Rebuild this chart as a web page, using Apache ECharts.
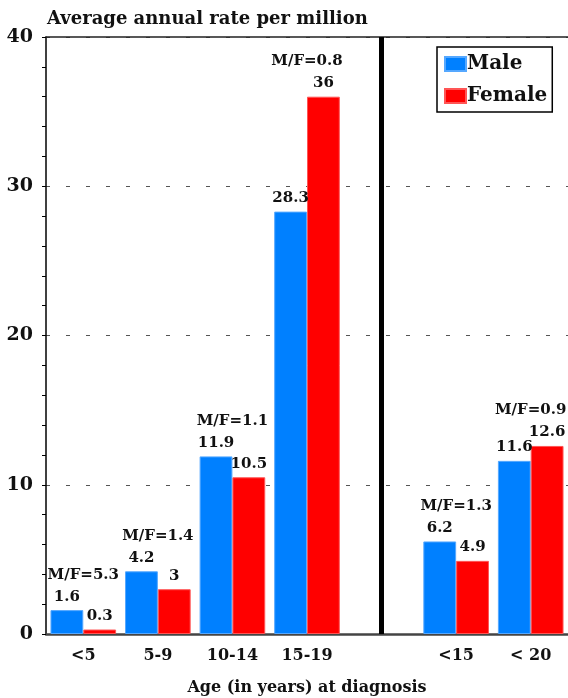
<!DOCTYPE html>
<html>
<head>
<meta charset="utf-8">
<script src="https://cdn.jsdelivr.net/npm/echarts@6/dist/echarts.min.js"></script>
<style>html,body{margin:0;padding:0;background:#fff}#c{width:568px;height:698px}</style>
</head>
<body>
<div id="c"></div>
<script>
var categories = ['<5', '5-9', '10-14', '15-19', '', '<15', '< 20'];
var maleValues = [1.6, 4.2, 11.9, 28.3, null, 6.2, 11.6];
var femaleValues = [0.3, 3, 10.5, 36, null, 4.9, 12.6];
var ratioLabels = ['M/F=5.3', 'M/F=1.4', 'M/F=1.1', 'M/F=0.8', null, 'M/F=1.3', 'M/F=0.9'];
var yTicks = [0, 10, 20, 30, 40];
var dividerIndex = 4;

var FONT = '"DejaVu Serif", serif';
var ratioData = [];
for (var i = 0; i < categories.length; i++) {
  if (ratioLabels[i]) {
    ratioData.push({ value: [i, Math.max(maleValues[i], femaleValues[i])], label: { formatter: ratioLabels[i] } });
  }
}

var chart = echarts.init(document.getElementById('c'), null, { renderer: 'canvas' });
chart.setOption({
  animation: false,
  title: {
    text: 'Average annual rate per million',
    left: 42, top: 5,
    textStyle: { fontFamily: FONT, fontWeight: 'bold', fontSize: 18, color: '#111' }
  },
  legend: {
    data: ['Male', 'Female'],
    orient: 'vertical',
    left: 437, top: 47,
    itemWidth: 21, itemHeight: 14,
    itemGap: 12,
    icon: 'rect',
    padding: [7, 5, 6, 7],
    borderColor: '#000', borderWidth: 1.5,
    textStyle: { fontFamily: FONT, fontWeight: 'bold', fontSize: 20, color: '#111', padding: [0, 0, 0, -4] }
  },
  grid: { left: 46, right: 0, top: 37, bottom: 64, containLabel: false, outerBoundsMode: 'none' },
  xAxis: [{
    type: 'category',
    data: categories,
    name: 'Age (in years) at diagnosis',
    nameLocation: 'middle',
    nameGap: 46,
    nameTextStyle: { fontFamily: FONT, fontWeight: 'bold', fontSize: 16, color: '#111' },
    axisLine: { lineStyle: { color: '#444', width: 2.5 } },
    axisTick: { show: false },
    axisLabel: { fontFamily: FONT, fontWeight: 'bold', fontSize: 16, color: '#111', margin: 14 }
  }, {
    type: 'category',
    data: categories,
    position: 'top',
    axisLine: { show: true, lineStyle: { color: '#222', width: 1.5 } },
    axisTick: { show: false },
    axisLabel: { show: false }
  }],
  yAxis: {
    type: 'value',
    min: yTicks[0], max: yTicks[yTicks.length - 1], interval: 10,
    axisLine: { show: true, lineStyle: { color: '#000', width: 1.5 } },
    axisTick: { show: true, length: 4, lineStyle: { color: '#000' } },
    minorTick: { show: true, splitNumber: 5, length: 4, lineStyle: { color: '#000' } },
    axisLabel: { fontFamily: FONT, fontWeight: 'bold', fontSize: 19, color: '#111', margin: 13 },
    splitLine: { show: true, lineStyle: { color: '#555', type: [4, 16], width: 1 } }
  },
  series: [{
    name: 'Male',
    type: 'bar',
    data: maleValues,
    barGap: '0%',
    barCategoryGap: '12%',
    itemStyle: { color: '#0080FF', borderColor: '#55A8FF', borderWidth: 1 },
    label: { show: true, position: 'top', distance: 6, fontFamily: FONT, fontWeight: 'bold', fontSize: 15, color: '#111' }
  }, {
    name: 'Female',
    type: 'bar',
    data: femaleValues,
    itemStyle: { color: '#FF0000', borderColor: '#FF5555', borderWidth: 1 },
    label: { show: true, position: 'top', distance: 6, fontFamily: FONT, fontWeight: 'bold', fontSize: 15, color: '#111' }
  }, {
    name: 'ratio',
    type: 'scatter',
    data: ratioData,
    symbolSize: 0,
    itemStyle: { opacity: 1 },
    label: { show: true, position: 'top', distance: 28, fontFamily: FONT, fontWeight: 'bold', fontSize: 15, color: '#111', opacity: 1 },
    markLine: {
      silent: true,
      symbol: 'none',
      label: { show: false },
      lineStyle: { color: '#000', width: 5, type: 'solid', opacity: 1 },
      data: [{ xAxis: dividerIndex }]
    }
  }]
});
</script>
</body>
</html>
